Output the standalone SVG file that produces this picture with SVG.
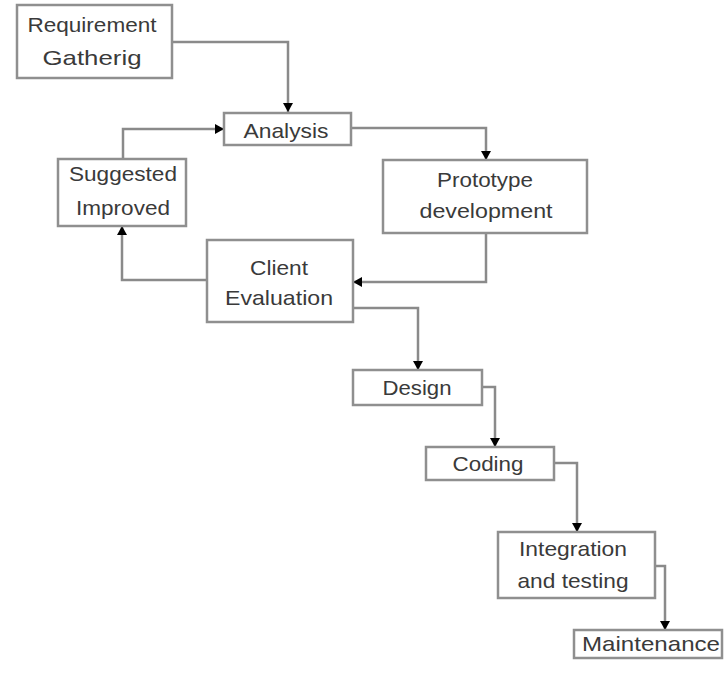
<svg xmlns="http://www.w3.org/2000/svg" width="727" height="686" viewBox="0 0 727 686">
  <defs>
    <style>
      .box { fill: #ffffff; stroke: #8f8f8f; stroke-width: 2.5; }
      .lbl { font-family: "Liberation Sans", Arial, sans-serif; font-size: 21px; fill: #3a3a3a; text-anchor: middle; }
      .wire { fill: none; stroke: #8a8a8a; stroke-width: 2.5; marker-end: url(#tip); }
    </style>
    <marker id="tip" markerUnits="userSpaceOnUse" markerWidth="10" markerHeight="10" refX="9" refY="5" orient="auto">
      <path d="M0,0 L9,5 L0,10 z" fill="#000000"/>
    </marker>
  </defs>
  <rect width="727" height="686" fill="#ffffff"/>

  <!-- connectors -->
  <g id="connectors">
    <path class="wire" d="M172,42 H288 V112"/>
    <path class="wire" d="M123,159 V129 H224"/>
    <path class="wire" d="M351,128 H486 V160"/>
    <path class="wire" d="M486,233 V282 H353"/>
    <path class="wire" d="M207,280 H122 V226"/>
    <path class="wire" d="M353,308 H418 V370"/>
    <path class="wire" d="M482,387 H495 V447"/>
    <path class="wire" d="M554,463 H577 V532"/>
    <path class="wire" d="M655,566 H665 V630"/>
  </g>

  <!-- nodes -->
  <g id="requirement">
    <rect class="box" x="17" y="5" width="155" height="73"/>
    <text class="lbl" x="92" y="32" textLength="129" lengthAdjust="spacingAndGlyphs">Requirement</text>
    <text class="lbl" x="92" y="65" textLength="99" lengthAdjust="spacingAndGlyphs">Gatherig</text>
  </g>
  <g id="analysis">
    <rect class="box" x="224" y="113" width="127" height="32"/>
    <text class="lbl" x="286" y="138" textLength="85" lengthAdjust="spacingAndGlyphs">Analysis</text>
  </g>
  <g id="suggested">
    <rect class="box" x="58" y="159" width="128" height="67"/>
    <text class="lbl" x="123" y="181" textLength="108" lengthAdjust="spacingAndGlyphs">Suggested</text>
    <text class="lbl" x="123" y="215" textLength="94" lengthAdjust="spacingAndGlyphs">Improved</text>
  </g>
  <g id="prototype">
    <rect class="box" x="383" y="160" width="204" height="73"/>
    <text class="lbl" x="485" y="187" textLength="96" lengthAdjust="spacingAndGlyphs">Prototype</text>
    <text class="lbl" x="486" y="218" textLength="133" lengthAdjust="spacingAndGlyphs">development</text>
  </g>
  <g id="client">
    <rect class="box" x="207" y="240" width="146" height="82"/>
    <text class="lbl" x="279" y="275" textLength="58" lengthAdjust="spacingAndGlyphs">Client</text>
    <text class="lbl" x="279" y="305" textLength="108" lengthAdjust="spacingAndGlyphs">Evaluation</text>
  </g>
  <g id="design">
    <rect class="box" x="353" y="370" width="129" height="35"/>
    <text class="lbl" x="417" y="395" textLength="69" lengthAdjust="spacingAndGlyphs">Design</text>
  </g>
  <g id="coding">
    <rect class="box" x="426" y="447" width="128" height="33"/>
    <text class="lbl" x="488" y="471" textLength="71" lengthAdjust="spacingAndGlyphs">Coding</text>
  </g>
  <g id="integration">
    <rect class="box" x="498" y="532" width="157" height="66"/>
    <text class="lbl" x="573" y="556" textLength="108" lengthAdjust="spacingAndGlyphs">Integration</text>
    <text class="lbl" x="573" y="588" textLength="111" lengthAdjust="spacingAndGlyphs">and testing</text>
  </g>
  <g id="maintenance">
    <rect class="box" x="574" y="630" width="148" height="28"/>
    <text class="lbl" x="651" y="651" textLength="138" lengthAdjust="spacingAndGlyphs">Maintenance</text>
  </g>
</svg>
